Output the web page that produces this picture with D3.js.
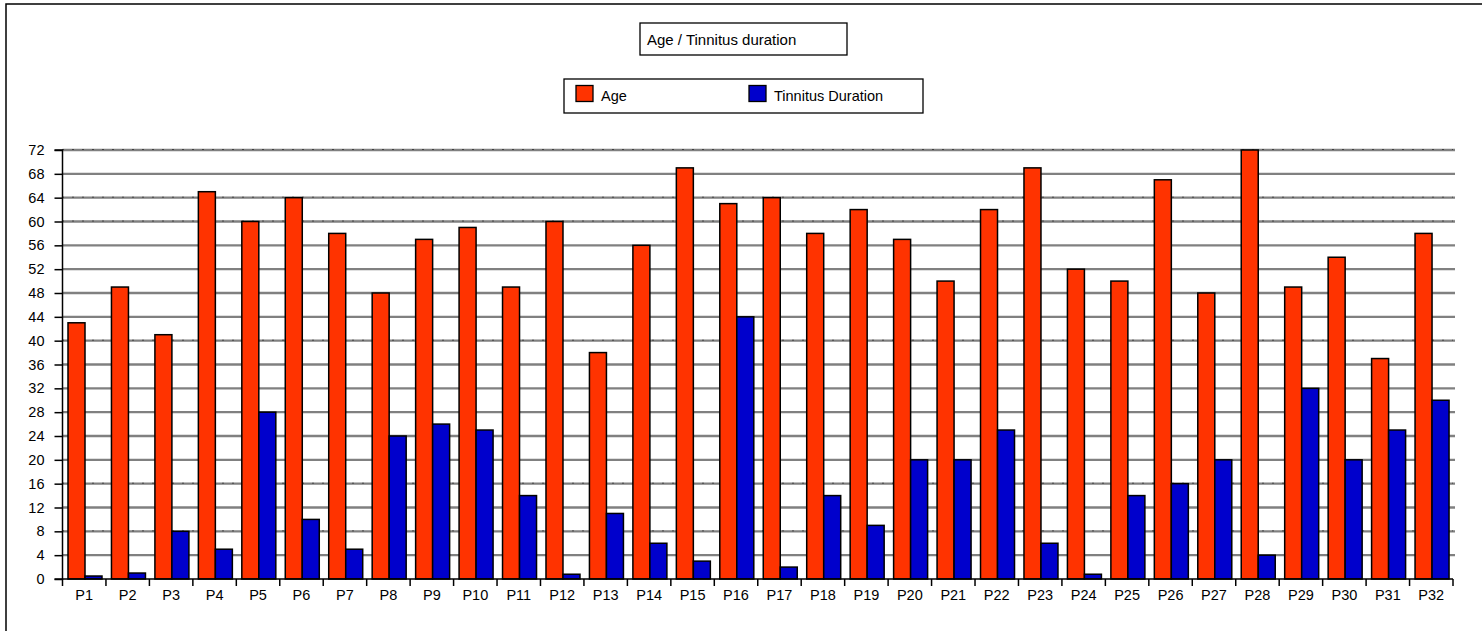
<!DOCTYPE html>
<html>
<head>
<meta charset="utf-8">
<script src="https://cdn.jsdelivr.net/npm/d3@7"></script>
<style>
  html, body { margin: 0; padding: 0; background: #fff; }
  svg { display: block; font-family: "Liberation Sans", Arial, sans-serif; }
</style>
</head>
<body>
<svg id="chart" width="1482" height="631"></svg>
<script>
const categories = ["P1","P2","P3","P4","P5","P6","P7","P8","P9","P10","P11","P12","P13","P14","P15","P16",
  "P17","P18","P19","P20","P21","P22","P23","P24","P25","P26","P27","P28","P29","P30","P31","P32"];
const ageValues = [43,49,41,65,60,64,58,48,57,59,49,60,38,56,69,63,64,58,62,57,50,62,69,52,50,67,48,72,49,54,37,58];
const durationValues = [0.5,1,8,5,28,10,5,24,26,25,14,0.8,11,6,3,44,2,14,9,20,20,25,6,0.8,14,16,20,4,32,20,25,30];
const seriesNames = ["Age","Tinnitus Duration"];
const seriesColors = ["#FF3300","#0000CC"];
const yTicks = d3.range(0, 73, 4);
const dottedGridValues = [72,64,60,40,16,8];
const titleText = "Age / Tinnitus duration";

(function () {
const svg = d3.select("#chart");
const FS = 14.5;

// outer frame (extends beyond the right/bottom edges)
svg.append("rect").attr("x", 6).attr("y", 4).attr("width", 1500).attr("height", 700)
  .attr("fill", "none").attr("stroke", "#000").attr("stroke-width", 1.5);

const pLeft = 62.5, pRight = 1453, pTop = 150, pBottom = 579;
const x0 = d3.scaleBand().domain(categories).range([pLeft, pRight]).padding(0);
const x1 = d3.scaleBand().domain(seriesNames).range([5.5, 39.5]).padding(0);
const y = d3.scaleLinear().domain([0, 72]).range([pBottom, pTop]);

// gridlines
const grid = svg.append("g");
grid.selectAll("line.g").data(yTicks.filter(d => d > 0)).enter().append("line")
  .attr("x1", pLeft).attr("x2", pRight + 2)
  .attr("y1", d => y(d)).attr("y2", d => y(d))
  .attr("stroke", "#808080").attr("stroke-width", 2.4);
grid.selectAll("line.d").data(dottedGridValues).enter().append("line")
  .attr("x1", pLeft).attr("x2", pRight)
  .attr("y1", d => y(d) - 0.5).attr("y2", d => y(d) - 0.5)
  .attr("stroke", "#000").attr("stroke-width", 1)
  .attr("stroke-dasharray", "1,9");

// bars
const data = categories.map((c, i) => ({ cat: c, vals: [ageValues[i], durationValues[i]] }));
const groups = svg.append("g").selectAll("g").data(data).enter().append("g")
  .attr("transform", d => `translate(${x0(d.cat)},0)`);
groups.selectAll("rect").data(d => d.vals.map((v, k) => ({ v, k }))).enter().append("rect")
  .attr("x", d => x1(seriesNames[d.k]))
  .attr("width", x1.bandwidth())
  .attr("y", d => y(d.v))
  .attr("height", d => y(0) - y(d.v))
  .attr("fill", d => seriesColors[d.k])
  .attr("stroke", "#000").attr("stroke-width", 1.5);

// y axis
const yAxis = d3.axisLeft(y).tickValues(yTicks).tickSize(8).tickPadding(10).tickFormat(d3.format("d"));
const ya = svg.append("g").attr("transform", `translate(${pLeft},0)`).call(yAxis);
ya.select(".domain").attr("stroke", "#000").attr("stroke-width", 1.5).attr("d", `M-8,${pTop}H0V${pBottom}H-8`);
ya.selectAll(".tick line").attr("stroke", "#000").attr("stroke-width", 1.5);
ya.selectAll(".tick text").attr("font-size", FS).attr("fill", "#000")
  .attr("font-family", "'Liberation Sans', Arial, sans-serif");

// x axis
const xAxis = d3.axisBottom(x0).tickSize(0).tickPadding(11);
const xa = svg.append("g").attr("transform", `translate(0,${pBottom})`).call(xAxis);
xa.select(".domain").attr("stroke", "#000").attr("stroke-width", 1.5).attr("d", `M${pLeft},0H${pRight}`);
xa.selectAll(".tick text").attr("font-size", FS).attr("fill", "#000")
  .attr("font-family", "'Liberation Sans', Arial, sans-serif");
// boundary tick marks
svg.append("g").selectAll("line").data(categories.concat(["_end"])).enter().append("line")
  .attr("x1", (d, i) => i < categories.length ? x0(d) : pRight)
  .attr("x2", (d, i) => i < categories.length ? x0(d) : pRight)
  .attr("y1", pBottom).attr("y2", pBottom + 7)
  .attr("stroke", "#000").attr("stroke-width", 1.5);

// title box
svg.append("rect").attr("x", 640).attr("y", 23).attr("width", 207).attr("height", 32)
  .attr("fill", "#fff").attr("stroke", "#000").attr("stroke-width", 1.3);
svg.append("text").attr("x", 647).attr("y", 45).attr("font-size", 15).attr("fill", "#000")
  .text(titleText);

// legend box
svg.append("rect").attr("x", 564).attr("y", 79).attr("width", 359).attr("height", 34)
  .attr("fill", "#fff").attr("stroke", "#000").attr("stroke-width", 1.3);
const legendX = [576, 749];
seriesNames.forEach((name, i) => {
  svg.append("rect").attr("x", legendX[i]).attr("y", 85.5).attr("width", 17).attr("height", 16)
    .attr("fill", seriesColors[i]).attr("stroke", "#000").attr("stroke-width", 1.3);
  svg.append("text").attr("x", legendX[i] + 25).attr("y", 101).attr("font-size", FS).attr("fill", "#000")
    .text(name);
});
})();
</script>
</body>
</html>
